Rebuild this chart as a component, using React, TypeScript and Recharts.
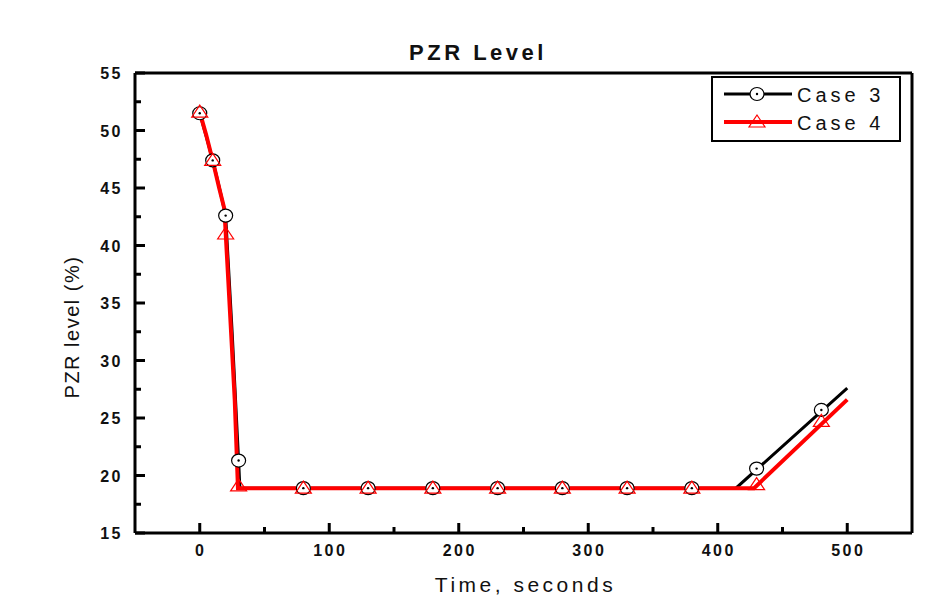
import React from "react";
import {
  ComposedChart,
  Line,
  Scatter,
  XAxis,
  YAxis,
  ReferenceLine,
  Legend,
} from "recharts";

// curve points (line)
const case3CurveTime = [0, 5, 10, 15, 20, 25, 30, 31, 414, 500];
const case3CurveLevel = [51.5, 49.5, 47.4, 45.1, 42.6, 32.5, 21.3, 18.9, 18.9, 27.6];
const case4CurveTime = [0, 5, 10, 15, 19, 22, 27, 29.5, 428, 500];
const case4CurveLevel = [51.6, 49.6, 47.4, 45.0, 43.2, 37.0, 26.6, 18.9, 18.9, 26.6];

// symbol points
const markerTime = [0, 10, 20, 30, 80, 130, 180, 230, 280, 330, 380, 430, 480];
const case3MarkerLevel = [51.5, 47.4, 42.6, 21.3, 18.9, 18.9, 18.9, 18.9, 18.9, 18.9, 18.9, 20.6, 25.7];
const case4MarkerLevel = [51.6, 47.4, 41.0, 19.1, 18.9, 18.9, 18.9, 18.9, 18.9, 18.9, 18.9, 19.2, 24.7];

const xTicks = [0, 50, 100, 150, 200, 250, 300, 350, 400, 450, 500];
const yTicks = [15, 17.5, 20, 22.5, 25, 27.5, 30, 32.5, 35, 37.5, 40, 42.5, 45, 47.5, 50, 52.5, 55];

const FONT = "'Liberation Sans', Arial, sans-serif";

const toRows = (time: number[], level: number[]) =>
  time.map((t, i) => ({ time: t, level: level[i] }));

const CircleDot = (props: any) => {
  const { cx, cy } = props;
  if (cx == null || cy == null) return null;
  return (
    <g>
      <ellipse cx={cx} cy={cy} rx={7} ry={6.5} fill="#fff" stroke="#000" strokeWidth={1.2} />
      <circle cx={cx} cy={cy} r={1.2} fill="#000" />
    </g>
  );
};

const Triangle = (props: any) => {
  const { cx, cy } = props;
  if (cx == null || cy == null) return null;
  return (
    <path
      d={`M${cx},${cy - 7} L${cx + 8},${cy + 5} L${cx - 8},${cy + 5} Z`}
      fill="none"
      stroke="#ff0000"
      strokeWidth={1.2}
    />
  );
};

const XTick = (props: any) => {
  const { x, y, payload } = props;
  const major = payload.value % 100 === 0;
  return (
    <g>
      <line x1={x} x2={x} y1={y} y2={y - (major ? 10 : 6)} stroke="#000" strokeWidth={3} />
      {major && (
        <text
          x={x + 1}
          y={y + 23}
          textAnchor="middle"
          fontFamily={FONT}
          fontWeight="bold"
          fontSize={16}
          style={{ letterSpacing: 2.5 }}
          fill="#111"
        >
          {payload.value}
        </text>
      )}
    </g>
  );
};

const YTick = (props: any) => {
  const { x, y, payload } = props;
  const major = payload.value % 5 === 0;
  return (
    <g>
      <line x1={x} x2={x + (major ? 10 : 6)} y1={y} y2={y} stroke="#000" strokeWidth={3} />
      {major && (
        <text
          x={x - 12}
          y={y + 6}
          textAnchor="end"
          fontFamily={FONT}
          fontWeight="bold"
          fontSize={16}
          style={{ letterSpacing: 2.5 }}
          fill="#111"
        >
          {payload.value}
        </text>
      )}
    </g>
  );
};

const series = [
  { name: "Case 3", color: "#000000", width: 3, Marker: CircleDot },
  { name: "Case 4", color: "#ff0000", width: 4, Marker: Triangle },
];

const LegendBox = () => (
  <svg width={192} height={68}>
    <rect x={1} y={1} width={188} height={64} fill="#fff" stroke="#000" strokeWidth={2} />
    {series.map((s, i) => {
      const ry = 18 + i * 28;
      const M = s.Marker;
      return (
        <g key={s.name}>
          <line x1={13} x2={81} y1={ry} y2={ry} stroke={s.color} strokeWidth={s.width} />
          <M cx={46} cy={ry} />
          <text
            x={86}
            y={ry + 8}
            fontFamily={FONT}
            fontSize={20}
            style={{ letterSpacing: 4 }}
            fill="#111"
          >
            {s.name}
          </text>
        </g>
      );
    })}
  </svg>
);

const App = () => {
  const case3Curve = toRows(case3CurveTime, case3CurveLevel);
  const case4Curve = toRows(case4CurveTime, case4CurveLevel);
  const case3Marks = toRows(markerTime, case3MarkerLevel);
  const case4Marks = toRows(markerTime, case4MarkerLevel);

  return (
    <div style={{ position: "absolute", left: 0, top: 0, width: 945, height: 605, background: "#fff" }}>
      <div
        style={{
          position: "absolute",
          left: 378,
          width: 200,
          top: 40,
          textAlign: "center",
          fontFamily: FONT,
          fontWeight: "bold",
          fontSize: 22,
          letterSpacing: 3.5,
          color: "#111",
          zIndex: 2,
        }}
      >
        PZR Level
      </div>
      <ComposedChart
        width={945}
        height={605}
        margin={{ top: 73, right: 33, left: 0, bottom: 0 }}
      >
        <XAxis
          dataKey="time"
          type="number"
          domain={[-50, 550]}
          ticks={xTicks}
          interval={0}
          height={72}
          axisLine={{ stroke: "#000", strokeWidth: 3 }}
          tickLine={false}
          tickSize={0}
          tickMargin={0}
          tick={<XTick />}
          allowDataOverflow
          label={{
            content: (p: any) => {
              const vb = p.viewBox;
              return (
                <text
                  x={vb.x + vb.width / 2 + 2}
                  y={vb.y + 59}
                  textAnchor="middle"
                  fontFamily={FONT}
                  fontSize={21}
                  style={{ letterSpacing: 3.5 }}
                  fill="#111"
                >
                  Time, seconds
                </text>
              );
            },
          }}
        />
        <YAxis
          dataKey="level"
          type="number"
          domain={[15, 55]}
          ticks={yTicks}
          interval={0}
          width={135}
          axisLine={{ stroke: "#000", strokeWidth: 3 }}
          tickLine={false}
          tickSize={0}
          tickMargin={0}
          tick={<YTick />}
          allowDataOverflow
          label={{
            content: (p: any) => {
              const vb = p.viewBox;
              const cy = vb.y + vb.height / 2 + 24;
              return (
                <text
                  x={79}
                  y={cy}
                  transform={`rotate(-90 79 ${cy})`}
                  textAnchor="middle"
                  fontFamily={FONT}
                  fontSize={20}
                  style={{ letterSpacing: 1.5 }}
                  fill="#111"
                >
                  PZR level (%)
                </text>
              );
            },
          }}
        />
        <ReferenceLine y={55} stroke="#000" strokeWidth={3} />
        <ReferenceLine x={550} stroke="#000" strokeWidth={3} />
        <Line
          data={case3Curve}
          dataKey="level"
          name="Case 3"
          type="linear"
          stroke="#000"
          strokeWidth={3}
          dot={false}
          isAnimationActive={false}
        />
        <Scatter
          data={case3Marks}
          dataKey="level"
          shape={<CircleDot />}
          legendType="none"
          isAnimationActive={false}
        />
        <Line
          data={case4Curve}
          dataKey="level"
          name="Case 4"
          type="linear"
          stroke="#ff0000"
          strokeWidth={4}
          dot={false}
          isAnimationActive={false}
        />
        <Scatter
          data={case4Marks}
          dataKey="level"
          shape={<Triangle />}
          legendType="none"
          isAnimationActive={false}
        />
        <Legend
          layout="vertical"
          align="center"
          verticalAlign="middle"
          content={() => <LegendBox />}
          wrapperStyle={{ left: 711, top: 76, width: 192, height: 68 }}
        />
      </ComposedChart>
    </div>
  );
};

export default App;
